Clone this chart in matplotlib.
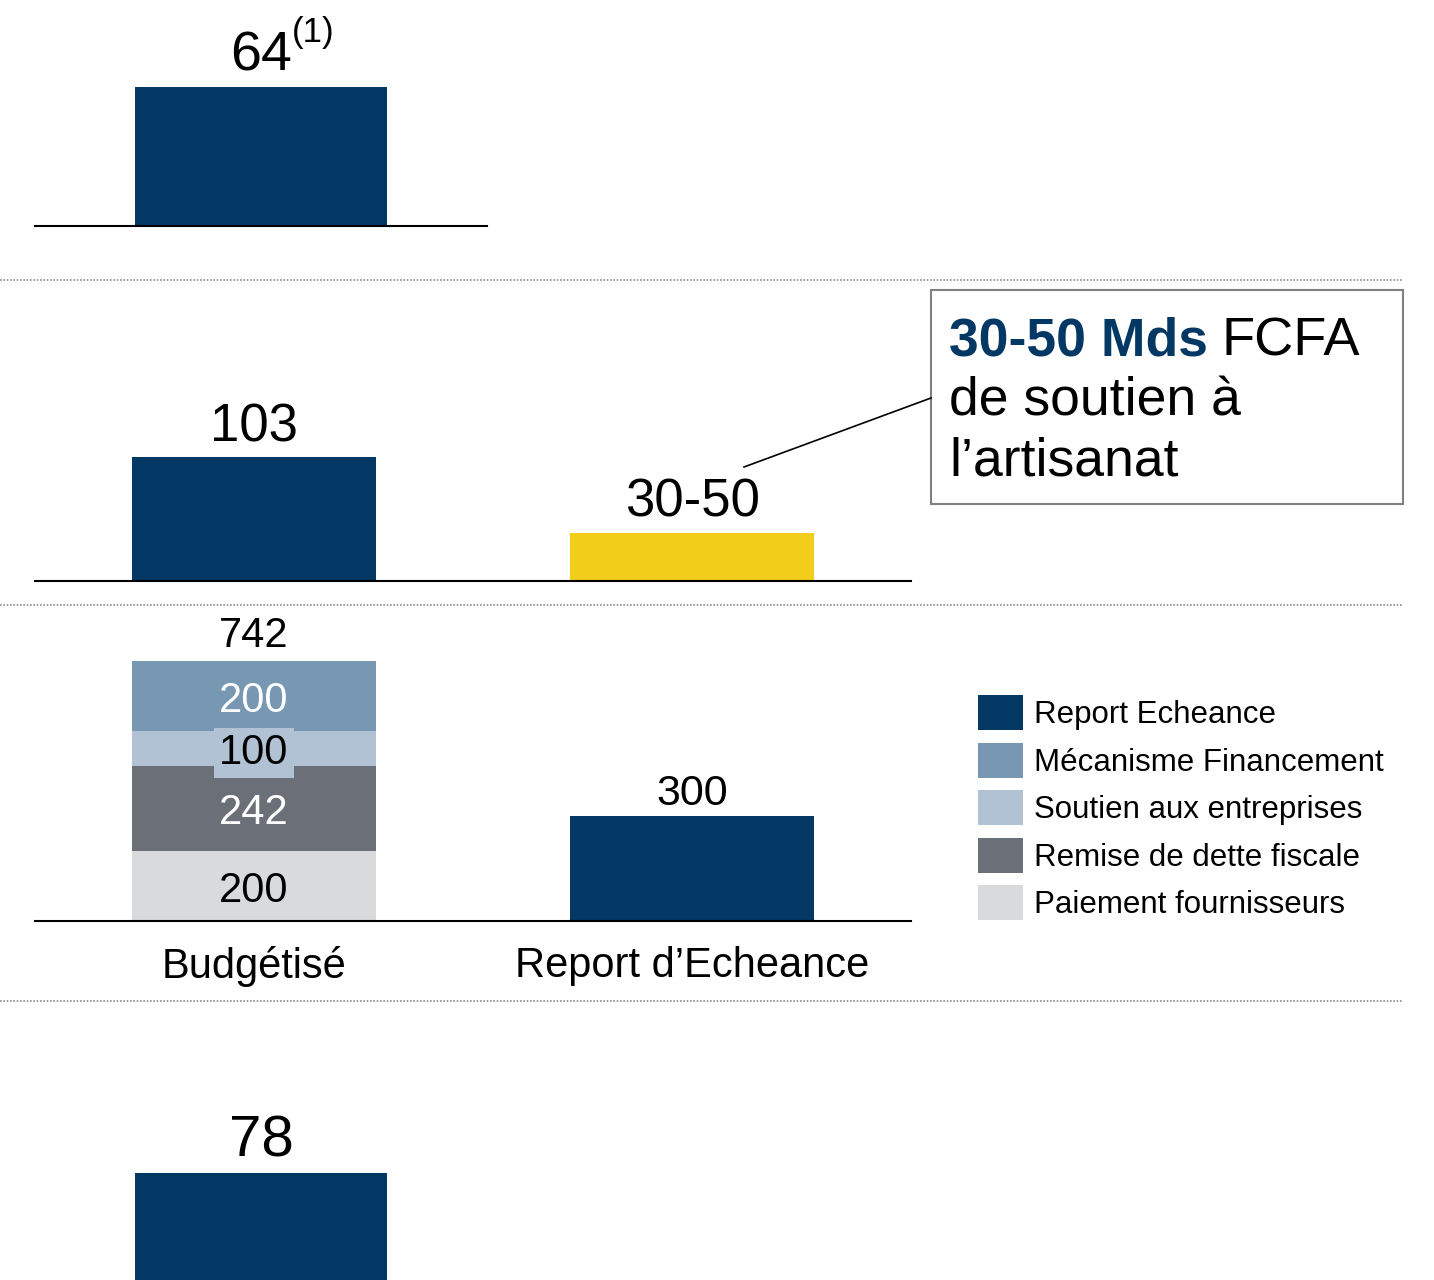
import matplotlib
matplotlib.use('Agg')
import matplotlib.pyplot as plt
from matplotlib.axes import Axes
from matplotlib.figure import Figure
from matplotlib.lines import Line2D
from matplotlib.patches import Rectangle

plt.rcParams['font.family'] = ['Liberation Sans', 'DejaVu Sans']

# data
top_value = [64]
artisanat_values = [103, 40]
artisanat_labels = ['103', '30-50']
stack_categories = ['Budgétisé', 'Report d’Echeance']
paiement_fournisseurs = [200, 0]
remise_dette_fiscale = [242, 0]
soutien_entreprises = [100, 0]
mecanisme_financement = [200, 0]
report_echeance = [0, 300]
stack_totals = ['742', '300']
bottom_value = [78]

NAVY = '#033764'
BLUE_GRAY = '#7797B2'
LIGHT_BLUE = '#B0C2D3'
DARK_GRAY = '#6B7078'
LIGHT_GRAY = '#D9DADC'
YELLOW = '#F2CD1A'

W, H = 1434, 1280
BAR_W = 0.557


def px(x, y):
    return x / W, 1 - y / H


def add_panel(figure, left, top, right, bottom, ymax, ncat):
    ax: Axes = figure.add_axes([left / W, 1 - bottom / H, (right - left) / W, (bottom - top) / H])
    ax.set_ylim(0, ymax)
    ax.set_xlim(-0.5, ncat - 0.5)
    for side in ['top', 'left', 'right']:
        ax.spines[side].set_visible(False)
    ax.spines['bottom'].set_linewidth(1.5)
    ax.spines['bottom'].set_color('black')
    ax.set_yticks([])
    ax.set_xticks([])
    ax.patch.set_alpha(0)
    return ax


def value_label(ax, x, y, text, size, gap=11.5):
    ax.annotate(text, xy=(x, y), xytext=(0, gap), textcoords='offset points',
                ha='center', va='baseline', fontsize=size, color='black')


figure: Figure = plt.figure(figsize=(W / 100, H / 100), dpi=100)

# panel 1
ax1 = add_panel(figure, 35, 0, 487, 226, 104, 1)
ax1.bar([0], top_value, width=BAR_W, color=NAVY, zorder=1)
value_label(ax1, 0, top_value[0], str(top_value[0]), 40)
ax1.annotate('(1)', xy=(0, top_value[0]), xytext=(22, 32), textcoords='offset points',
             ha='left', va='baseline', fontsize=25)

# panel 2
ax2 = add_panel(figure, 35, 290, 911, 581, 241.7, 2)
ax2.bar([0, 1], artisanat_values, width=BAR_W, color=[NAVY, YELLOW], zorder=1)
for i, v in enumerate(artisanat_values):
    value_label(ax2, i, v, artisanat_labels[i], 38)

# panel 3 (stacked)
ax3 = add_panel(figure, 35, 610, 911, 921, 887.6, 2)
xs = [0, 1]
segments = [
    (paiement_fournisseurs, LIGHT_GRAY, 'Paiement fournisseurs', 'black'),
    (remise_dette_fiscale, DARK_GRAY, 'Remise de dette fiscale', 'white'),
    (soutien_entreprises, LIGHT_BLUE, 'Soutien aux entreprises', 'black'),
    (mecanisme_financement, BLUE_GRAY, 'Mécanisme Financement', 'white'),
]
bottoms = [0, 0]
handles = {}
for values, color, name, tcolor in segments:
    bars = ax3.bar(xs, values, width=BAR_W, bottom=bottoms, color=color, zorder=1)
    handles[name] = bars
    for i, v in enumerate(values):
        if v > 0:
            bbox = None
            if name == 'Soutien aux entreprises':
                bbox = dict(boxstyle='square,pad=0.12', fc=LIGHT_BLUE, ec='none')
            ax3.annotate(str(v), xy=(xs[i], bottoms[i] + v / 2), xytext=(0, -3.5),
                         textcoords='offset points', ha='center', va='center',
                         fontsize=30, color=tcolor, bbox=bbox, zorder=3)
    bottoms = [b + v for b, v in zip(bottoms, values)]
bars = ax3.bar(xs, report_echeance, width=BAR_W, bottom=bottoms, color=NAVY, zorder=1)
handles['Report Echeance'] = bars
totals = [b + v for b, v in zip(bottoms, report_echeance)]
value_label(ax3, 0, totals[0], stack_totals[0], 30, gap=10)
value_label(ax3, 1, totals[1], stack_totals[1], 31, gap=8)
ax3.set_xticks(xs)
ax3.set_xticklabels(stack_categories, fontsize=30)
ax3.tick_params(axis='x', length=0, pad=18)

legend_order = ['Report Echeance', 'Mécanisme Financement', 'Soutien aux entreprises',
                'Remise de dette fiscale', 'Paiement fournisseurs']
figure.legend([handles[n] for n in legend_order], legend_order,
              loc='upper left', bbox_to_anchor=px(978, 695), frameon=False,
              fontsize=22.5, borderpad=0, borderaxespad=0, handlelength=1.45,
              handleheight=1.35, handletextpad=0.35, labelspacing=0.4)

# panel 4
ax4 = add_panel(figure, 35, 1010, 487, 1342, 153, 1)
ax4.bar([0], bottom_value, width=BAR_W, color=NAVY, zorder=1)
value_label(ax4, 0, bottom_value[0], str(bottom_value[0]), 42)

# dotted separators
for y in [280, 605, 1001]:
    figure.add_artist(Line2D([0, 1403 / W], [1 - y / H, 1 - y / H], transform=figure.transFigure,
                             color='#8C8C8C', lw=1.2, linestyle=(0, (1, 1))))

# callout box
x0, y0 = px(931, 504)
x1, y1 = px(1403, 290)
figure.add_artist(Rectangle((x0, y0), x1 - x0, y1 - y0, transform=figure.transFigure,
                            fc='white', ec='#808080', lw=1.5))
figure.add_artist(Line2D([744 / W, 931 / W], [1 - 467 / H, 1 - 398 / H],
                         transform=figure.transFigure, color='black', lw=1.2))
figure.text(*px(949, 355), '30-50 Mds', fontsize=38.5, fontweight='bold',
            color=NAVY, ha='left', va='baseline')
figure.text(*px(1222, 355), 'FCFA', fontsize=39, color='black', ha='left', va='baseline')
figure.text(*px(949, 416), 'de soutien à', fontsize=38.5, color='black', ha='left', va='baseline')
figure.text(*px(949, 476), 'l’artisanat', fontsize=38.5, color='black', ha='left', va='baseline')

figure.savefig('out.png', dpi=100)
